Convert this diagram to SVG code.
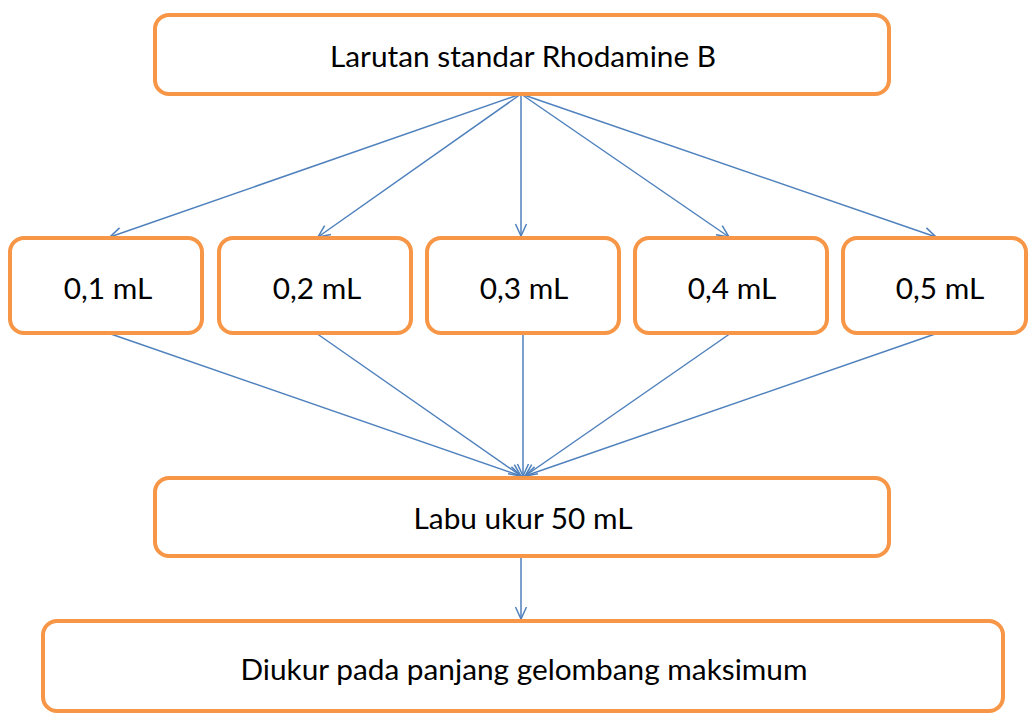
<svg xmlns="http://www.w3.org/2000/svg" width="1029" height="714" viewBox="0 0 1029 714">
<defs>
<style>
.box{fill:#fff;stroke:#F79646;stroke-width:4}
.t{font-family:Lato,"Open Sans",sans-serif;font-size:29.8px;fill:#000;text-anchor:middle;dominant-baseline:central}
.c{stroke:#4F81BD;stroke-width:1.5;fill:none;marker-end:url(#ah)}
</style>
<marker id="ah" viewBox="0 0 14 14" refX="13" refY="7" markerWidth="14" markerHeight="14" markerUnits="userSpaceOnUse" orient="auto">
<path d="M1,1.5 L13,7 L1,12.5" fill="none" stroke="#4F81BD" stroke-width="1.5"/>
</marker>
</defs>
<rect width="1029" height="714" fill="#fff"/>
<g id="connectors">
<line class="c" x1="521" y1="94" x2="110" y2="237"/>
<line class="c" x1="521" y1="94" x2="318" y2="237"/>
<line class="c" x1="521" y1="94" x2="521" y2="236"/>
<line class="c" x1="521" y1="94" x2="729" y2="237"/>
<line class="c" x1="521" y1="94" x2="936" y2="237"/>
<line class="c" x1="108" y1="333" x2="521" y2="476"/>
<line class="c" x1="316" y1="333" x2="521" y2="476"/>
<line class="c" x1="523" y1="333" x2="523" y2="476"/>
<line class="c" x1="731" y1="333" x2="525" y2="476"/>
<line class="c" x1="938" y1="333" x2="525" y2="476"/>
<line class="c" x1="521" y1="556" x2="521" y2="619"/>
</g>
<g id="n_top"><rect class="box" x="155" y="15" width="734" height="79" rx="14"/><text class="t" x="523" y="55">Larutan standar Rhodamine B</text></g>
<g id="n_01"><rect class="box" x="10" y="238" width="192" height="95" rx="14"/><text class="t" x="108" y="287">0,1 mL</text></g>
<g id="n_02"><rect class="box" x="219" y="238" width="192" height="95" rx="14"/><text class="t" x="317" y="287">0,2 mL</text></g>
<g id="n_03"><rect class="box" x="427" y="238" width="192" height="95" rx="14"/><text class="t" x="524" y="287">0,3 mL</text></g>
<g id="n_04"><rect class="box" x="635" y="238" width="192" height="95" rx="14"/><text class="t" x="732" y="287">0,4 mL</text></g>
<g id="n_05"><rect class="box" x="843" y="238" width="183" height="95" rx="14"/><text class="t" x="940" y="287">0,5 mL</text></g>
<g id="n_labu"><rect class="box" x="155" y="478" width="734" height="78" rx="14"/><text class="t" x="523" y="517">Labu ukur 50 mL</text></g>
<g id="n_ukur"><rect class="box" x="43" y="621" width="960" height="90" rx="14"/><text class="t" x="524" y="668">Diukur pada panjang gelombang maksimum</text></g>
</svg>
